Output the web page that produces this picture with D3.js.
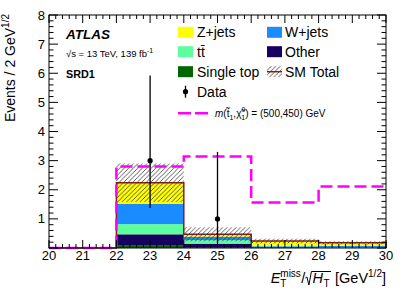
<!DOCTYPE html>
<html>
<head>
<meta charset="utf-8">
<script src="https://cdn.jsdelivr.net/npm/d3@7"></script>
<style>
  body { margin: 0; background: #fff; }
  text { font-family: "Liberation Sans", Arial, sans-serif; }
</style>
</head>
<body>
<div id="chart"></div>
<script>
// histogram bin edges and contents
const binEdges = [20, 22, 24, 26, 28, 30];
const singleTop = [0, 0.08, 0.03, 0.01, 0.00];
const other     = [0, 0.39, 0.12, 0.02, 0.01];
const ttbar     = [0, 0.35, 0.12, 0.02, 0.01];
const wjets     = [0, 0.70, 0.12, 0.02, 0.05];
const zjets     = [0, 0.72, 0.08, 0.17, 0.11];
const smErr     = [0, 0.66, 0.24, 0.08, 0.05];
const signal    = [0, 2.80, 3.14, 1.56, 2.11];
// data points
const dataX   = [23, 25];
const dataY   = [3, 1];
const dataLo  = [1.63, 0.83];
const dataHi  = [2.92, 2.30];
const xTicks = [20, 21, 22, 23, 24, 25, 26, 27, 28, 29, 30];
const yTicks = [1, 2, 3, 4, 5, 6, 7, 8];

const W = 407, H = 292;
const margin = {top: 15, right: 21, bottom: 44, left: 49};

let svg = d3.select("#chart").append("svg")
    .attr("width", W).attr("height", H);

let x = d3.scaleLinear().domain([20, 30]).range([margin.left, W - margin.right]);
let y = d3.scaleLinear().domain([0, 8]).range([H - margin.bottom, margin.top]);

// hatch pattern for the SM uncertainty
let defs = svg.append("defs");
defs.append("pattern")
    .attr("id", "hatch")
    .attr("patternUnits", "userSpaceOnUse")
    .attr("width", 4.5).attr("height", 4.5)
  .append("path")
    .attr("d", "M0,4.5 L4.5,0 M-1,1 L1,-1 M3.5,5.5 L5.5,3.5")
    .attr("stroke", "#333").attr("stroke-width", 0.8);

// stack, bottom to top
const layers = [
    {name: "Single top", vals: singleTop, color: "#006600"},
    {name: "Other", vals: other, color: "#160060"},
    {name: "tt", vals: ttbar, color: "#5cff9c"},
    {name: "W+jets", vals: wjets, color: "#1a8cff"},
    {name: "Z+jets", vals: zjets, color: "#ffff00"}
];

let nb = binEdges.length - 1;
let base = d3.range(nb).map(() => 0);
layers.forEach(function(l) {
    for (let i = 0; i < nb; i++) {
        let v0 = base[i], v1 = base[i] + l.vals[i];
        if (l.vals[i] > 0) {
            svg.append("rect")
                .attr("x", x(binEdges[i]))
                .attr("y", y(v1))
                .attr("width", x(binEdges[i + 1]) - x(binEdges[i]))
                .attr("height", y(v0) - y(v1))
                .attr("fill", l.color);
        }
        base[i] = v1;
    }
});
let total = base.slice();

// SM total outline
function stepPath(vals) {
    let p = "M" + x(binEdges[0]) + "," + y(vals[0]);
    for (let i = 0; i < nb; i++) {
        p += "L" + x(binEdges[i]) + "," + y(vals[i]);
        p += "L" + x(binEdges[i + 1]) + "," + y(vals[i]);
    }
    return p;
}
svg.append("path")
    .attr("d", stepPath(total) + "L" + x(30) + "," + y(0))
    .attr("fill", "none")
    .attr("stroke", "#8b1a1a")
    .attr("stroke-width", 1.5);

// uncertainty band
for (let i = 0; i < nb; i++) {
    if (smErr[i] <= 0) continue;
    svg.append("rect")
        .attr("x", x(binEdges[i]))
        .attr("y", y(total[i] + smErr[i]))
        .attr("width", x(binEdges[i + 1]) - x(binEdges[i]))
        .attr("height", y(Math.max(0, total[i] - smErr[i])) - y(total[i] + smErr[i]))
        .attr("fill", "url(#hatch)");
}

// signal
svg.append("path")
    .attr("d", stepPath(signal))
    .attr("fill", "none")
    .attr("stroke", "#ff00ff")
    .attr("stroke-width", 2.5)
    .attr("stroke-dasharray", "12,5");

// data
dataX.forEach(function(d, i) {
    svg.append("line")
        .attr("x1", x(d)).attr("x2", x(d))
        .attr("y1", y(dataY[i] - dataLo[i])).attr("y2", y(dataY[i] + dataHi[i]))
        .attr("stroke", "black").attr("stroke-width", 1.3);
    svg.append("circle")
        .attr("cx", x(d)).attr("cy", y(dataY[i]))
        .attr("r", 2.6).attr("fill", "black");
});

// frame and ticks (inward, ROOT style)
let x0 = x(20), x1 = x(30), y0 = y(0), y1 = y(8);
svg.append("rect")
    .attr("x", x0).attr("y", y1)
    .attr("width", x1 - x0).attr("height", y0 - y1)
    .attr("fill", "none").attr("stroke", "black").attr("stroke-width", 1);

let tk = svg.append("g").attr("stroke", "black").attr("stroke-width", 1);
d3.range(0, 50.5).forEach(function(k) {
    let v = 20 + k * 0.2;
    let len = (k % 5 === 0) ? 8 : 4;
    tk.append("line").attr("x1", x(v)).attr("x2", x(v)).attr("y1", y0).attr("y2", y0 - len);
    tk.append("line").attr("x1", x(v)).attr("x2", x(v)).attr("y1", y1).attr("y2", y1 + len);
});
d3.range(0, 40.5).forEach(function(k) {
    let v = k * 0.2;
    let len = (k % 5 === 0) ? 9 : 4.5;
    tk.append("line").attr("x1", x0).attr("x2", x0 + len).attr("y1", y(v)).attr("y2", y(v));
    tk.append("line").attr("x1", x1).attr("x2", x1 - len).attr("y1", y(v)).attr("y2", y(v));
});

svg.selectAll(".xlab").data(xTicks).enter().append("text")
    .attr("x", d => x(d)).attr("y", y0 + 12)
    .attr("text-anchor", "middle")
    .style("font-size", "13px")
    .text(d => d);
svg.selectAll(".ylab").data(yTicks).enter().append("text")
    .attr("x", x0 - 4).attr("y", d => y(d) + 4.5)
    .attr("text-anchor", "end")
    .style("font-size", "13px")
    .text(d => d);

// y axis title
svg.append("text")
    .attr("transform", "translate(15," + (y1 - 1) + ") rotate(-90)")
    .attr("text-anchor", "end")
    .style("font-size", "14px")
    .html('Events / 2 GeV<tspan dy="-6" style="font-size:10px">1/2</tspan>');

// x axis title, built left to right then shifted to end at the frame
let xt = svg.append("g");
let cx = 0;
function piece(str, size, dy, italic) {
    let t = xt.append("text").attr("x", cx).attr("y", dy)
        .style("font-size", size + "px")
        .style("font-style", italic ? "italic" : "normal")
        .style("white-space", "pre")
        .text(str);
    return t.node().getComputedTextLength();
}
cx += piece("E", 14.5, 0, true);
let wSup = piece("miss", 10, -6.5, false);
let wSub = piece("T", 10, 4, false);
cx += Math.max(wSup, wSub) + 0.5;
cx += piece("/", 14.5, 0, false);
let sq0 = cx;
cx += 7;
cx += piece("H", 14.5, 0, true) + 0.5;
cx += piece("T", 10, 4, false) + 1.5;
let sq1 = cx;
xt.append("path")
    .attr("d", "M" + sq0 + ",-5 L" + (sq0 + 1.5) + ",-6 L" + (sq0 + 3.5) + ",2 L" + (sq0 + 6) + ",-11.5 L" + sq1 + ",-11.5")
    .attr("fill", "none").attr("stroke", "black").attr("stroke-width", 1);
cx += piece("\u00a0[GeV", 14.5, 0, false);
cx += piece("1/2", 10, -6.5, false);
cx += piece("]", 14.5, 0, false);
xt.attr("transform", "translate(" + (x1 - cx) + ",283)");

// labels
svg.append("text").attr("x", 66).attr("y", 38.5)
    .style("font-size", "13.5px").style("font-weight", "bold").style("font-style", "italic")
    .text("ATLAS");
svg.append("text").attr("x", 66).attr("y", 57)
    .style("font-size", "9.5px")
    .html('\u221As = 13 TeV, 139 fb<tspan dy="-4" style="font-size:7px">-1</tspan>');
svg.append("text").attr("x", 66).attr("y", 77.5)
    .style("font-size", "10.8px").style("font-weight", "bold")
    .text("SRD1");

// legend
const legCol = [178, 267];
const legRow = [32.3, 51.7, 71.7, 91.7, 113.3];
function legBox(cxp, cy, fill) {
    svg.append("rect").attr("x", cxp).attr("y", cy - 5.5)
        .attr("width", 15).attr("height", 11).attr("fill", fill);
}
function legText(cxp, cy, str, size) {
    return svg.append("text").attr("x", cxp).attr("y", cy + 5)
        .style("font-size", (size || 14) + "px").text(str);
}
legBox(legCol[0], legRow[0], layers[4].color); legText(legCol[0] + 19, legRow[0], "Z+jets");
legBox(legCol[1], legRow[0], layers[3].color); legText(legCol[1] + 18, legRow[0], "W+jets");
legBox(legCol[0], legRow[1], layers[2].color);
legText(legCol[0] + 19, legRow[1], "").html('t<tspan>t\u0304</tspan>');
legBox(legCol[1], legRow[1], layers[1].color); legText(legCol[1] + 18, legRow[1], "Other");
legBox(legCol[0], legRow[2], layers[0].color); legText(legCol[0] + 19, legRow[2], "Single top");
legBox(legCol[1], legRow[2], "url(#hatch)");
svg.append("line").attr("x1", legCol[1]).attr("x2", legCol[1] + 15)
    .attr("y1", legRow[2]).attr("y2", legRow[2])
    .attr("stroke", "#8b1a1a").attr("stroke-width", 1.5);
legText(legCol[1] + 18, legRow[2], "SM Total");
svg.append("line").attr("x1", legCol[0] + 7.5).attr("x2", legCol[0] + 7.5)
    .attr("y1", legRow[3] - 6).attr("y2", legRow[3] + 6)
    .attr("stroke", "black").attr("stroke-width", 1.3);
svg.append("circle").attr("cx", legCol[0] + 7.5).attr("cy", legRow[3]).attr("r", 2.6);
legText(legCol[0] + 19, legRow[3], "Data");
svg.append("line").attr("x1", legCol[0]).attr("x2", legCol[0] + 30)
    .attr("y1", legRow[4]).attr("y2", legRow[4])
    .attr("stroke", "#ff00ff").attr("stroke-width", 2.5)
    .attr("stroke-dasharray", "13,4");
svg.append("text").attr("x", legCol[0] + 37).attr("y", legRow[4] + 3.5)
    .style("font-size", "10px")
    .html('<tspan font-style="italic">m</tspan>(t\u0303<tspan dy="3" style="font-size:7px">1</tspan><tspan dy="-3">,\u03C7\u0303</tspan><tspan dy="-5" style="font-size:7px">0</tspan><tspan dx="-4" dy="8" style="font-size:7px">1</tspan><tspan dy="-3">) = (500,450) GeV</tspan>');
</script>
</body>
</html>
